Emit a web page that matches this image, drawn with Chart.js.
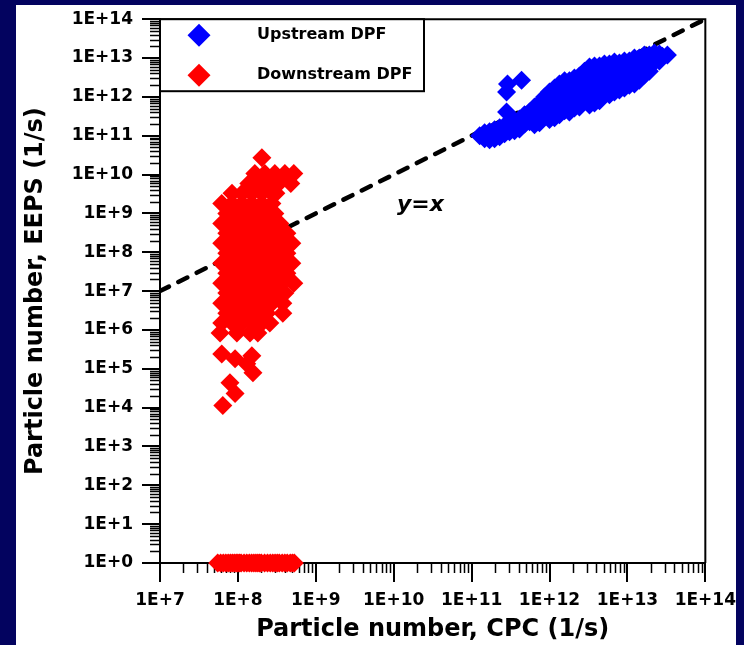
<!DOCTYPE html>
<html>
<head>
<meta charset="utf-8">
<title>EEPS vs CPC particle number</title>
<script src="https://cdn.jsdelivr.net/npm/chart.js@4.4.1/dist/chart.umd.min.js"></script>
<style>
  html, body { margin: 0; padding: 0; background: #03035f; width: 744px; height: 645px; overflow: hidden; }
  #panel { position: absolute; left: 16px; top: 5px; width: 720px; height: 640px; background: #fff; }
  #chart { position: absolute; left: 0; top: 0; }
</style>
</head>
<body>
<div id="panel"></div>
<canvas id="chart" width="744" height="645"></canvas>
<script>
/* Particle number emission rate: EEPS vs CPC, upstream and downstream of the DPF */

// axis decades (log scale)
const xTickValues = [1e7, 1e8, 1e9, 1e10, 1e11, 1e12, 1e13, 1e14];
const xTickLabels = ['1E+7', '1E+8', '1E+9', '1E+10', '1E+11', '1E+12', '1E+13', '1E+14'];
const yTickValues = [1, 1e1, 1e2, 1e3, 1e4, 1e5, 1e6, 1e7, 1e8, 1e9, 1e10, 1e11, 1e12, 1e13, 1e14];
const yTickLabels = ['1E+0', '1E+1', '1E+2', '1E+3', '1E+4', '1E+5', '1E+6', '1E+7',
  '1E+8', '1E+9', '1E+10', '1E+11', '1E+12', '1E+13', '1E+14'];

// [CPC, EEPS] in 1/s
const upstreamPts = [
  [1.27e11, 1.0e11],
  [1.47e11, 1.19e11], [1.47e11, 8.4e10],
  [1.7e11, 1.27e11], [1.7e11, 7.9e10],
  [1.97e11, 1.43e11], [1.97e11, 8.4e10],
  [2.29e11, 1.6e11], [2.29e11, 9.4e10],
  [2.65e11, 1.8e11], [2.65e11, 1.13e11],
  [3.07e11, 2.0e11], [3.07e11, 1.27e11],
  [3.56e11, 2.4e11], [3.56e11, 1.34e11],
  [4.12e11, 2.7e11], [4.12e11, 1.5e11],
  [4.78e11, 3.45e11], [4.78e11, 2.0e11],
  [5.54e11, 4.1e11], [5.54e11, 2.3e11],
  [6.42e11, 5.5e11], [6.42e11, 3.26e11], [6.42e11, 1.91e11],
  [7.44e11, 7.0e11], [7.44e11, 3.9e11], [7.44e11, 2.15e11],
  [8.63e11, 1.0e12], [8.63e11, 5.5e11], [8.63e11, 3.07e11],
  [1.0e12, 1.34e12], [1.0e12, 7.4e11], [1.0e12, 4.1e11], [1.0e12, 2.6e11],
  [1.16e12, 1.7e12], [1.16e12, 9.4e11], [1.16e12, 5.2e11], [1.16e12, 2.9e11],
  [1.34e12, 2.15e12], [1.34e12, 1.19e12], [1.34e12, 6.6e11], [1.34e12, 3.45e11],
  [1.56e12, 2.6e12], [1.56e12, 1.43e12], [1.56e12, 7.9e11], [1.56e12, 4.4e11],
  [1.8e12, 2.6e12], [1.8e12, 1.43e12], [1.8e12, 7.9e11], [1.8e12, 4.1e11],
  [2.09e12, 3.07e12], [2.09e12, 1.7e12], [2.09e12, 9.4e11], [2.09e12, 5.2e11],
  [2.42e12, 3.45e12], [2.42e12, 1.9e12], [2.42e12, 1.06e12], [2.42e12, 5.5e11],
  [2.81e12, 4.6e12], [2.81e12, 2.6e12], [2.81e12, 1.43e12], [2.81e12, 7.9e11],
  [3.26e12, 5.9e12], [3.26e12, 3.26e12], [3.26e12, 1.8e12], [3.26e12, 1.0e12], [3.26e12, 6.2e11],
  [3.78e12, 6.2e12], [3.78e12, 3.45e12], [3.78e12, 1.9e12], [3.78e12, 1.06e12], [3.78e12, 7.0e11],
  [4.38e12, 6.2e12], [4.38e12, 3.45e12], [4.38e12, 1.9e12], [4.38e12, 1.06e12], [4.38e12, 7.9e11],
  [5.07e12, 7.0e12], [5.07e12, 3.9e12], [5.07e12, 2.15e12], [5.07e12, 1.19e12],
  [5.88e12, 7.0e12], [5.88e12, 3.9e12], [5.88e12, 2.15e12], [5.88e12, 1.13e12],
  [6.81e12, 7.9e12], [6.81e12, 4.4e12], [6.81e12, 2.4e12], [6.81e12, 1.34e12],
  [7.9e12, 7.4e12], [7.9e12, 4.1e12], [7.9e12, 2.3e12], [7.9e12, 1.5e12],
  [9.15e12, 8.4e12], [9.15e12, 4.6e12], [9.15e12, 2.6e12], [9.15e12, 1.7e12],
  [1.06e13, 8.4e12], [1.06e13, 4.6e12], [1.06e13, 2.4e12], [1.06e13, 2.0e12],
  [1.23e13, 1.0e13], [1.23e13, 5.5e12], [1.23e13, 3.07e12], [1.23e13, 2.15e12],
  [1.42e13, 1.0e13], [1.42e13, 5.5e12], [1.42e13, 2.7e12],
  [1.65e13, 1.19e13], [1.65e13, 6.6e12], [1.65e13, 3.66e12],
  [1.91e13, 1.19e13], [1.91e13, 6.6e12], [1.91e13, 4.6e12],
  [2.22e13, 1.34e13], [2.22e13, 7.9e12],
  [2.57e13, 1.27e13], [2.57e13, 8.4e12],
  [2.81e13, 1.12e13],
  [3.26e13, 1.19e13],
  [2.89e11, 2.15e12], [4.38e11, 2.7e12], [2.81e11, 1.34e12], [2.81e11, 4.1e11]
];

const downstreamPts = [
  [2.03e8, 2.7e10],
  [1.65e8, 1.06e10], [2.22e8, 1.06e10], [2.98e8, 1.06e10], [4.01e8, 1.06e10], [5.22e8, 1.06e10],
  [1.38e8, 5.9e9], [1.86e8, 5.9e9], [2.5e8, 5.9e9], [3.35e8, 5.9e9], [4.78e8, 5.9e9],
  [8.4e7, 3.3e9], [1.13e8, 3.3e9], [1.51e8, 3.3e9], [2.03e8, 3.3e9], [2.73e8, 3.3e9], [3.07e8, 3.3e9],
  [6.2e7, 1.8e9], [8.4e7, 1.8e9], [1.13e8, 1.8e9], [1.51e8, 1.8e9], [2.03e8, 1.8e9], [2.73e8, 1.8e9],
  [7.2e7, 1.0e9], [9.7e7, 1.0e9], [1.3e8, 1.0e9], [1.75e8, 1.0e9], [2.35e8, 1.0e9], [2.98e8, 1.0e9],
  [6.2e7, 5.5e8], [8.4e7, 5.5e8], [1.13e8, 5.5e8], [1.51e8, 5.5e8], [2.03e8, 5.5e8], [2.73e8, 5.5e8], [3.45e8, 5.5e8],
  [7.2e7, 3.1e8], [9.7e7, 3.1e8], [1.3e8, 3.1e8], [1.75e8, 3.1e8], [2.35e8, 3.1e8], [3.16e8, 3.1e8], [4.25e8, 3.1e8],
  [6.2e7, 1.7e8], [8.4e7, 1.7e8], [1.13e8, 1.7e8], [1.51e8, 1.7e8], [2.03e8, 1.7e8], [2.73e8, 1.7e8], [3.67e8, 1.7e8], [4.92e8, 1.7e8],
  [7.2e7, 9.4e7], [9.7e7, 9.4e7], [1.3e8, 9.4e7], [1.75e8, 9.4e7], [2.35e8, 9.4e7], [3.16e8, 9.4e7], [4.25e8, 9.4e7],
  [6.2e7, 5.2e7], [8.4e7, 5.2e7], [1.13e8, 5.2e7], [1.51e8, 5.2e7], [2.03e8, 5.2e7], [2.73e8, 5.2e7], [3.67e8, 5.2e7], [4.92e8, 5.2e7],
  [7.2e7, 2.9e7], [9.7e7, 2.9e7], [1.3e8, 2.9e7], [1.75e8, 2.9e7], [2.35e8, 2.9e7], [3.16e8, 2.9e7], [4.25e8, 2.9e7],
  [6.2e7, 1.6e7], [8.4e7, 1.6e7], [1.13e8, 1.6e7], [1.51e8, 1.6e7], [2.03e8, 1.6e7], [2.73e8, 1.6e7], [3.67e8, 1.6e7], [5.22e8, 1.6e7],
  [7.2e7, 8.9e6], [9.7e7, 8.9e6], [1.3e8, 8.9e6], [1.75e8, 8.9e6], [2.35e8, 8.9e6], [3.16e8, 8.9e6], [4.01e8, 8.9e6],
  [6.2e7, 4.9e6], [8.4e7, 4.9e6], [1.13e8, 4.9e6], [1.51e8, 4.9e6], [2.03e8, 4.9e6], [2.73e8, 4.9e6], [3.77e8, 4.9e6],
  [7.2e7, 2.7e6], [9.7e7, 2.7e6], [1.3e8, 2.7e6], [1.75e8, 2.7e6], [2.35e8, 2.7e6], [3.77e8, 2.7e6],
  [6.2e7, 1.5e6], [8.4e7, 1.5e6], [1.13e8, 1.5e6], [1.51e8, 1.5e6], [2.03e8, 1.5e6], [2.57e8, 1.5e6],
  [5.9e7, 8.4e5], [9.7e7, 8.4e5], [1.43e8, 8.4e5], [1.8e8, 8.4e5],
  [6.2e7, 2.4e5], [9.2e7, 1.8e5], [1.51e8, 2.15e5], [1.3e8, 1.34e5], [1.56e8, 7.9e4],
  [7.9e7, 4.4e4], [9.2e7, 2.3e4], [6.4e7, 1.13e4],
  // EEPS reading of zero, shown on the bottom axis
  [5.5e7, 1], [6e7, 1], [6.5e7, 1], [7e7, 1], [7.5e7, 1], [8e7, 1], [8.5e7, 1], [9e7, 1], [9.5e7, 1],
  [1e8, 1], [1.05e8, 1], [1.1e8, 1], [1.2e8, 1], [1.3e8, 1], [1.4e8, 1], [1.5e8, 1], [1.6e8, 1],
  [1.7e8, 1], [1.8e8, 1], [1.9e8, 1], [2e8, 1], [2.2e8, 1], [2.4e8, 1], [2.6e8, 1], [2.8e8, 1],
  [3e8, 1], [3.2e8, 1], [3.4e8, 1], [3.7e8, 1], [4e8, 1], [4.3e8, 1], [4.7e8, 1], [5e8, 1], [5.3e8, 1]
];

// 1:1 reference line
const parityLine = [[1e7, 1e7], [1e14, 1e14]];

const FONT = 'DejaVu Sans';
const toXY = pts => pts.map(([x, y]) => ({ x, y }));

/* minor log ticks + top/right frame */
const axisExtras = {
  id: 'axisExtras',
  beforeDatasetsDraw(chart) {
    const { ctx, chartArea: a, scales: { x, y } } = chart;
    ctx.save();
    ctx.strokeStyle = '#000';
    ctx.lineWidth = 1.5;
    ctx.beginPath();
    for (let e = 7; e < 14; e++) {
      for (let k = 2; k <= 9; k++) {
        const px = Math.round(x.getPixelForValue(k * Math.pow(10, e))) + 0.5;
        ctx.moveTo(px, a.bottom);
        ctx.lineTo(px, a.bottom + 10);
      }
    }
    for (let e = 0; e < 14; e++) {
      for (let k = 2; k <= 9; k++) {
        const py = Math.round(y.getPixelForValue(k * Math.pow(10, e))) + 0.5;
        ctx.moveTo(a.left, py);
        ctx.lineTo(a.left - 10, py);
      }
    }
    ctx.stroke();
    ctx.lineWidth = 2;
    ctx.beginPath();
    ctx.moveTo(a.left, a.top);
    ctx.lineTo(a.right, a.top);
    ctx.lineTo(a.right, a.bottom);
    ctx.stroke();
    ctx.restore();
  }
};

/* boxed legend in the top-left corner + y=x label */
const boxLegend = {
  id: 'boxLegend',
  afterDraw(chart) {
    const { ctx, chartArea: a } = chart;
    const sets = chart.data.datasets.slice(0, 2);
    ctx.save();
    ctx.fillStyle = '#fff';
    ctx.fillRect(a.left, a.top, 264, 72);
    ctx.strokeStyle = '#000';
    ctx.lineWidth = 2;
    ctx.strokeRect(a.left, a.top, 264, 72);
    sets.forEach((ds, i) => {
      const cy = a.top + 16 + i * 40;
      const cx = a.left + 39;
      const r = 11.5;
      ctx.fillStyle = ds.backgroundColor;
      ctx.beginPath();
      ctx.moveTo(cx - r, cy);
      ctx.lineTo(cx, cy - r);
      ctx.lineTo(cx + r, cy);
      ctx.lineTo(cx, cy + r);
      ctx.closePath();
      ctx.fill();
      ctx.fillStyle = '#000';
      ctx.font = 'bold 16px "' + FONT + '"';
      ctx.textBaseline = 'middle';
      ctx.textAlign = 'left';
      ctx.fillText(ds.label, a.left + 97, cy);
    });
    ctx.font = 'bold italic 22px "' + FONT + '"';
    ctx.fillStyle = '#000';
    ctx.textBaseline = 'middle';
    ctx.fillText('y=x', 397, 205);
    ctx.restore();
  }
};

const majorTicks = (values) => (scale) => {
  scale.ticks = values.map(v => ({ value: v }));
};

new Chart(document.getElementById('chart'), {
  type: 'scatter',
  data: {
    datasets: [
      {
        label: 'Upstream DPF',
        data: toXY(upstreamPts),
        pointStyle: 'rectRot',
        pointRadius: 9.5,
        pointHoverRadius: 9.5,
        backgroundColor: '#0000ff',
        borderWidth: 0,
        clip: false
      },
      {
        label: 'Downstream DPF',
        data: toXY(downstreamPts),
        pointStyle: 'rectRot',
        pointRadius: 9.5,
        pointHoverRadius: 9.5,
        backgroundColor: '#ff0000',
        borderWidth: 0,
        clip: false
      },
      {
        label: 'y=x',
        data: toXY(parityLine),
        showLine: true,
        pointRadius: 0,
        borderColor: '#000',
        borderWidth: 4.5,
        borderDash: [10, 10.5],
        borderCapStyle: 'round'
      }
    ]
  },
  options: {
    responsive: false,
    animation: false,
    events: [],
    layout: { padding: { left: 0, top: 17, right: 38, bottom: 0 } },
    plugins: { legend: { display: false }, tooltip: { enabled: false } },
    scales: {
      x: {
        type: 'logarithmic',
        min: 1e7,
        max: 1e14,
        afterBuildTicks: majorTicks(xTickValues),
        afterFit: s => { s.height = 82; },
        border: { display: true, color: '#000', width: 2 },
        grid: { display: true, drawOnChartArea: false, drawTicks: true, tickLength: 19, color: '#000', lineWidth: 2 },
        ticks: {
          autoSkip: false,
          maxRotation: 0,
          padding: 8,
          color: '#000',
          font: { family: FONT, size: 17, weight: 'bold' },
          callback: v => xTickLabels[xTickValues.indexOf(v)]
        },
        title: {
          display: true,
          text: 'Particle number, CPC (1/s)',
          color: '#000',
          font: { family: FONT, size: 24, weight: 'bold' },
          padding: { top: 0, bottom: 1 }
        }
      },
      y: {
        type: 'logarithmic',
        min: 1,
        max: 1e14,
        afterBuildTicks: majorTicks(yTickValues),
        afterFit: s => { s.width = 160; },
        border: { display: true, color: '#000', width: 2 },
        grid: { display: true, drawOnChartArea: false, drawTicks: true, tickLength: 18, color: '#000', lineWidth: 2 },
        ticks: {
          autoSkip: false,
          padding: 9,
          color: '#000',
          font: { family: FONT, size: 17, weight: 'bold' },
          callback: v => yTickLabels[yTickValues.indexOf(v)]
        },
        title: {
          display: true,
          text: 'Particle number, EEPS (1/s)',
          color: '#000',
          font: { family: FONT, size: 24, weight: 'bold' },
          padding: { top: 21, bottom: 0 }
        }
      }
    }
  },
  plugins: [axisExtras, boxLegend]
});
</script>
</body>
</html>
